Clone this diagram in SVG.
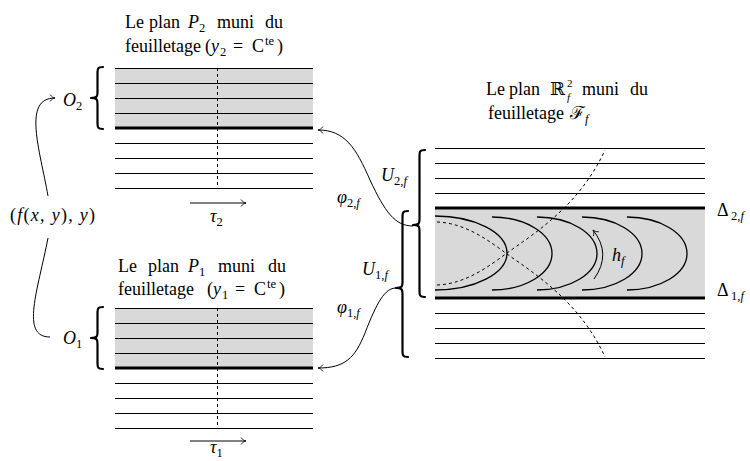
<svg xmlns="http://www.w3.org/2000/svg" width="750" height="461" viewBox="0 0 750 461">
<style>
.t{font-family:"Liberation Serif","DejaVu Serif",serif;font-size:18px;fill:#000}
.i{font-style:italic}
.s{font-size:12.5px}
.ss{font-size:11px}
.band{fill:#d9d9d9;stroke:none}
.thin{stroke:#000;stroke-width:1.2;fill:none}
.thick{stroke:#000;stroke-width:2.8;fill:none}
.dash{stroke:#000;stroke-width:1;stroke-dasharray:3 3;fill:none}
.arc{stroke:#000;stroke-width:1.3;fill:none}
.brace{stroke:#000;stroke-width:2.2;fill:none;stroke-linecap:round;stroke-linejoin:round}
.con{stroke:#000;stroke-width:1;fill:none}
</style>
<defs>
<marker id="ah" viewBox="-7 -5 8 10" refX="0" refY="0" markerWidth="8" markerHeight="10" markerUnits="userSpaceOnUse" orient="auto">
<path d="M-5,-3.5 C-3.5,-1.2 -1.5,-0.3 0,0 C-1.5,0.3 -3.5,1.2 -5,3.5" fill="none" stroke="#000" stroke-width="0.8"/>
</marker>
</defs>

<g id="plan-p2">
<rect x="115" y="68" width="198" height="60" class="band"/>
<path class="thin" transform="translate(0,0.5)" d="M115,68H313M115,83H313M115,98H313M115,113H313M115,143H313M115,158H313M115,173H313M115,188H313"/>
<path class="thick" d="M115,128H313"/>
<path class="dash" d="M217.5,68V187"/>
<text class="t"><tspan x="125" y="28">Le</tspan><tspan x="149">plan</tspan><tspan x="188" class="i">P</tspan><tspan class="s" dy="4">2</tspan><tspan x="217" dy="-4">muni</tspan><tspan x="265">du</tspan></text>
<text class="t"><tspan x="125" y="52">feuilletage</tspan><tspan x="205">(</tspan><tspan x="211" class="i">y</tspan><tspan class="s" x="220" dy="4">2</tspan><tspan x="233" dy="-4">=</tspan><tspan x="252">C</tspan><tspan class="s" x="265" dy="-7">te</tspan><tspan x="277" dy="7">)</tspan></text>
<path class="brace" d="M103,67 C97.5,67 97.5,69 97.5,73 L97.5,92 C97.5,96 97.5,98 91,98 C97.5,98 97.5,100 97.5,104 L97.5,123 C97.5,127 97.5,129 103,129"/>
<text class="t" x="63" y="106"><tspan class="i">O</tspan><tspan class="s" dy="4">2</tspan></text>
<text class="t" x="210" y="222"><tspan class="i">τ</tspan><tspan class="s" dy="4">2</tspan></text>
</g>

<g id="plan-p1">
<rect x="115" y="308" width="198" height="60" class="band"/>
<path class="thin" transform="translate(0,0.5)" d="M115,308H313M115,323H313M115,338H313M115,353H313M115,383H313M115,398H313M115,413H313M115,428H313"/>
<path class="thick" d="M115,368H313"/>
<path class="dash" d="M217.5,308V427"/>
<text class="t"><tspan x="118" y="272">Le</tspan><tspan x="148">plan</tspan><tspan x="188" class="i">P</tspan><tspan class="s" dy="4">1</tspan><tspan x="218" dy="-4">muni</tspan><tspan x="268">du</tspan></text>
<text class="t"><tspan x="118" y="295">feuilletage</tspan><tspan x="207">(</tspan><tspan x="213" class="i">y</tspan><tspan class="s" x="222" dy="4">1</tspan><tspan x="235" dy="-4">=</tspan><tspan x="254">C</tspan><tspan class="s" x="267" dy="-7">te</tspan><tspan x="279" dy="7">)</tspan></text>
<path class="brace" d="M103,307 C97.5,307 97.5,309 97.5,313 L97.5,332 C97.5,336 97.5,338 91,338 C97.5,338 97.5,340 97.5,344 L97.5,363 C97.5,367 97.5,369 103,369"/>
<text class="t" x="63" y="344"><tspan class="i">O</tspan><tspan class="s" dy="4">1</tspan></text>
<text class="t" x="210" y="453"><tspan class="i">τ</tspan><tspan class="s" dy="4">1</tspan></text>
</g>

<g id="map-label">
<text class="t" x="10" y="221" textLength="85" lengthAdjust="spacing">(<tspan class="i">f</tspan>(<tspan class="i">x</tspan>, <tspan class="i">y</tspan>), <tspan class="i">y</tspan>)</text>
</g>

<g id="plan-rf">
<rect x="435" y="208" width="270" height="90" class="band"/>
<path class="thin" transform="translate(0,0.5)" d="M435,148H705M435,163H705M435,178H705M435,193H705M435,313H705M435,328H705M435,343H705M435,358H705"/>
<path class="thick" d="M435,208H705M435,298H705"/>
<path class="arc" d="M435,216 A72,37 0 0 1 435,290"/>
<path class="arc" d="M492,217 A60,36.5 0 0 1 492,290"/>
<path class="arc" d="M537,217 A60,36.5 0 0 1 537,290"/>
<path class="arc" d="M582,217 A60,36.5 0 0 1 582,290"/>
<path class="arc" d="M627,217 A60,36.5 0 0 1 627,290"/>
<path class="dash" d="M437,285 C465,284 488,267 507,253 C535,233 580,205 605,150"/>
<path class="dash" d="M437,222 C465,223 488,240 507,254 C535,274 580,302 605,357"/>
<path class="con" d="M594,279 Q612,254 593,230" marker-end="url(#ah)"/>
<text class="t" x="612" y="261"><tspan class="i">h</tspan><tspan class="s i" dy="4">f</tspan></text>
<text class="t"><tspan x="486" y="95">Le</tspan><tspan x="509">plan</tspan><tspan x="550">ℝ</tspan></text>
<text class="t ss" x="567" y="87">2</text>
<text class="t ss i" x="567" y="101">f</text>
<text class="t"><tspan x="582" y="95">muni</tspan><tspan x="630">du</tspan></text>
<text class="t"><tspan x="488" y="119">feuilletage</tspan><tspan x="570">ℱ</tspan><tspan class="s i" dy="4">f</tspan></text>
<text class="t" x="717" y="216">Δ<tspan class="s" x="731" dy="4">2,</tspan><tspan class="s i">f</tspan></text>
<text class="t" x="717" y="296">Δ<tspan class="s" x="731" dy="4">1,</tspan><tspan class="s i">f</tspan></text>
<path class="brace" d="M425,150 C419.5,150 419.5,152 419.5,156 L419.5,219 C419.5,223 419.5,225 413,225 C419.5,225 419.5,227 419.5,231 L419.5,291 C419.5,295 419.5,297 425,297"/>
<path class="brace" d="M408,211 C402.5,211 402.5,213 402.5,217 L402.5,282 C402.5,286 402.5,288 396,288 C402.5,288 402.5,290 402.5,294 L402.5,351 C402.5,355 402.5,357 408,357"/>
<text class="t" x="381" y="181"><tspan class="i">U</tspan><tspan class="s" dy="4">2,</tspan><tspan class="s i">f</tspan></text>
<text class="t" x="362" y="275"><tspan class="i">U</tspan><tspan class="s" dy="4">1,</tspan><tspan class="s i">f</tspan></text>
<text class="t" x="337" y="203"><tspan class="i">φ</tspan><tspan class="s" dy="4">2,</tspan><tspan class="s i">f</tspan></text>
<text class="t" x="337" y="313"><tspan class="i">φ</tspan><tspan class="s" dy="4">1,</tspan><tspan class="s i">f</tspan></text>
</g>

<g id="connectors">
<path class="con" d="M48,196 C40,150 22,98 55,98" marker-end="url(#ah)"/>
<path class="con" d="M48,238 C38,290 20,337 50,337"/>
<path class="con" d="M413,226 C395,226 385,212 370,180 C356,148 345,130 318,130" marker-end="url(#ah)"/>
<path class="con" d="M396,288 C385,288 377,302 365,333 C355,358 345,368 318,368" marker-end="url(#ah)"/>
<path class="con" d="M190,203H246" marker-end="url(#ah)"/>
<path class="con" d="M190,441H246" marker-end="url(#ah)"/>
</g>
</svg>
